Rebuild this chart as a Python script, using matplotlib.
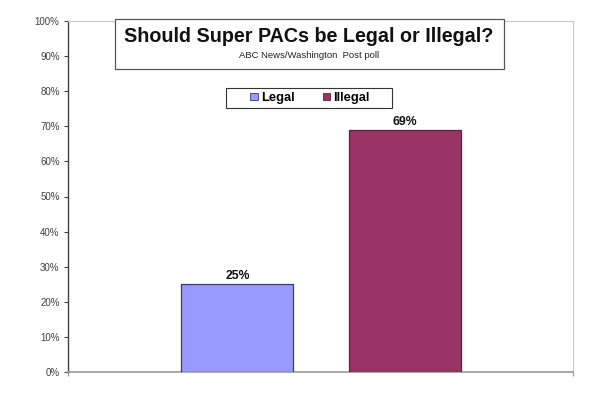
import matplotlib
matplotlib.use("Agg")
import matplotlib.pyplot as plt
from matplotlib.patches import Rectangle, Patch
from matplotlib.ticker import FuncFormatter

series = ["Legal", "Illegal"]
values = [25, 69]
colors = ["#9999FF", "#993366"]
edges = ["#3a3a6a", "#5e1f40"]
yticks = [0, 10, 20, 30, 40, 50, 60, 70, 80, 90, 100]
title = "Should Super PACs be Legal or Illegal?"
subtitle = "ABC News/Washington  Post poll"

plt.rcParams['font.family'] = ['Liberation Sans', 'DejaVu Sans']

W, H = 600, 398
fig = plt.figure(figsize=(6, 3.98), dpi=100)
fig.patch.set_facecolor('white')
left, right, top, bottom = 68, 573, 21, 372
ax = fig.add_axes([left / W, (H - bottom) / H, (right - left) / W, (bottom - top) / H])

xpos = [0, 1]
bars = ax.bar(xpos, values, width=0.667, color=colors, edgecolor=edges, linewidth=0.9, zorder=3)
for x, v in zip(xpos, values):
    ax.text(x, v + 0.6, f"{v}%", ha='center', va='bottom', fontsize=8.8, fontweight='bold', color='#111111')

ax.set_xlim(-1.01, 2.0)
ax.set_ylim(0, 100)
ax.set_yticks(yticks)
ax.yaxis.set_major_formatter(FuncFormatter(lambda v, p: f"{int(v)}%"))
ax.tick_params(axis='y', direction='out', length=3, width=0.8, colors='#404040', labelsize=7, pad=3)
ax.set_xticks([-1.01, 2.0])
ax.set_xticklabels(["", ""])
ax.tick_params(axis='x', direction='out', length=3, width=0.8, colors='#909090')

ax.spines['left'].set_color('#404040')
ax.spines['left'].set_linewidth(1.0)
ax.spines['bottom'].set_color('#9a9a9a')
ax.spines['bottom'].set_linewidth(1.2)
ax.spines['top'].set_color('#c8c8c8')
ax.spines['right'].set_color('#c8c8c8')

# title box
tb = Rectangle((115 / W, (H - 69) / H), (504 - 115) / W, (69 - 19) / H, transform=fig.transFigure,
               facecolor='white', edgecolor='#555555', linewidth=0.9, zorder=10)
fig.patches.append(tb)
fig.text(309 / W, (H - 37) / H, title, ha='center', va='center', fontsize=14.2, fontweight='bold',
         color='#111111', zorder=11)
fig.text(309 / W, (H - 55) / H, subtitle, ha='center', va='center', fontsize=6.8, color='#222222', zorder=11)

# legend box
lb = Rectangle((226 / W, (H - 108) / H), (392 - 226) / W, (108 - 88) / H, transform=fig.transFigure,
               facecolor='white', edgecolor='#333333', linewidth=0.8, zorder=10)
fig.patches.append(lb)
handles = [Patch(facecolor=c, edgecolor=e, linewidth=0.6) for c, e in zip(colors, edges)]
leg = fig.legend(handles, series, ncol=2, loc='center', bbox_to_anchor=(310 / W, (H - 98) / H),
                 frameon=False, prop={'weight': 'bold', 'size': 9.3},
                 handlelength=0.55, handleheight=0.55, handletextpad=0.25, columnspacing=2.2,
                 borderpad=0.2, borderaxespad=0)
leg.set_zorder(12)

fig.savefig("out.png", dpi=100, facecolor='white')
